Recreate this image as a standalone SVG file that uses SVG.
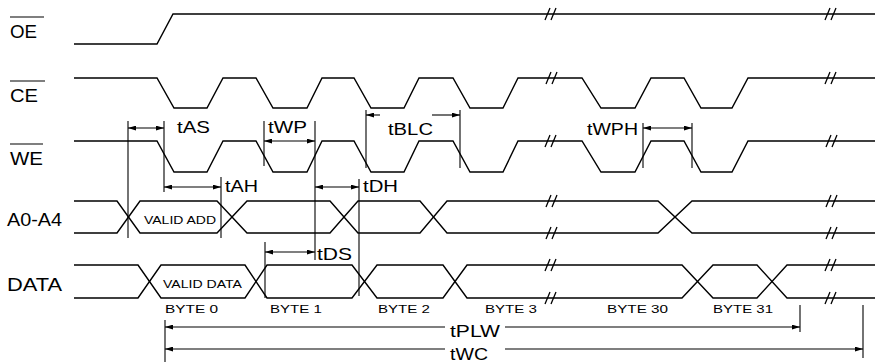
<svg xmlns="http://www.w3.org/2000/svg" xmlns:xlink="http://www.w3.org/1999/xlink" width="875" height="364" viewBox="0 0 875 364">
<style>
.sig{fill:none;stroke:#000;stroke-width:1.4;stroke-linejoin:miter}
.brk{fill:none;stroke:#000;stroke-width:1.3}
.tk{stroke:#000;stroke-width:1.1}
.ar{stroke:#000;stroke-width:1.1;fill:none}
.lbl{font-family:"Liberation Sans",Arial,Helvetica,sans-serif;font-size:18px;fill:#000}
.tl{font-family:"Liberation Sans",Arial,Helvetica,sans-serif;font-size:17px;fill:#000}
.sm{font-family:"Liberation Sans",Arial,Helvetica,sans-serif;font-size:11.5px;fill:#000}
.ob{stroke:#000;stroke-width:1.2}
</style>
<defs>
<path id="brk" d="M-7,6 L-2,-6 M-1,6 L4,-6"/>
<marker id="ah" viewBox="0 0 10 6" refX="10" refY="3" markerWidth="8" markerHeight="5" markerUnits="userSpaceOnUse" orient="auto-start-reverse">
<path d="M0,0 L10,3 L0,6 Z" fill="#000"/>
</marker>
</defs>
<rect width="875" height="364" fill="#fff"/>

<g id="OE">
<text class="lbl" x="10" y="38" textLength="27" lengthAdjust="spacingAndGlyphs">OE</text>
<line class="ob" x1="10" y1="17" x2="44" y2="17"/>
<path class="sig" d="M74,44 H157 L173,14 H875"/>
<use href="#brk" class="brk" x="552" y="14"/>
<use href="#brk" class="brk" x="832" y="14"/>
</g>

<g id="CE">
<text class="lbl" x="10" y="102" textLength="28" lengthAdjust="spacingAndGlyphs">CE</text>
<line class="ob" x1="10" y1="81" x2="45" y2="81"/>
<path class="sig" d="M74,78 H157 L174,108 H207 L223,78 H256 L273,108 H307 L322,78 H354 L371,108 H404 L419,78 H453 L470,108 H503 L518,78 H582 L601,108 H635 L651,78 H684 L701,108 H732 L748,78 H875"/>
<use href="#brk" class="brk" x="553" y="78"/>
<use href="#brk" class="brk" x="832" y="78"/>
</g>

<g id="WE">
<text class="lbl" x="10" y="165" textLength="33" lengthAdjust="spacingAndGlyphs">WE</text>
<line class="ob" x1="10" y1="144" x2="43" y2="144"/>
<path class="sig" d="M74,141 H157 L174,172 H207 L223,141 H256 L273,172 H307 L322,141 H354 L371,172 H404 L419,141 H453 L470,172 H503 L518,141 H582 L601,172 H635 L651,141 H684 L701,172 H732 L748,141 H875"/>
<use href="#brk" class="brk" x="552" y="141"/>
<use href="#brk" class="brk" x="833" y="141"/>
</g>

<g id="A0-A4">
<text class="lbl" x="7" y="226" textLength="55" lengthAdjust="spacingAndGlyphs">A0-A4</text>
<path class="sig" d="M74,201 H117 L140,233 H217 L247,201 H330 L358,233 H420 L447,201 H658 L692,233 H875"/>
<path class="sig" d="M74,233 H117 L140,201 H217 L247,233 H330 L358,201 H420 L447,233 H658 L692,201 H875"/>
<text class="sm" x="144" y="224" textLength="72" lengthAdjust="spacingAndGlyphs">VALID ADD</text>
<use href="#brk" class="brk" x="553" y="201"/>
<use href="#brk" class="brk" x="553" y="233"/>
<use href="#brk" class="brk" x="833" y="201"/>
<use href="#brk" class="brk" x="833" y="233"/>
</g>

<g id="DATA">
<text class="lbl" x="7" y="291" textLength="55" lengthAdjust="spacingAndGlyphs">DATA</text>
<path class="sig" d="M74,265 H138 L161,298 H245 L267,265 H352 L377,298 H443 L467,265 H682 L713,298 H757 L787,265 H875"/>
<path class="sig" d="M74,298 H138 L161,265 H245 L267,298 H352 L377,265 H443 L467,298 H682 L713,265 H757 L787,298 H875"/>
<text class="sm" x="163" y="288" textLength="79" lengthAdjust="spacingAndGlyphs">VALID DATA</text>
<use href="#brk" class="brk" x="552" y="265"/>
<use href="#brk" class="brk" x="552" y="298"/>
<use href="#brk" class="brk" x="832" y="265"/>
<use href="#brk" class="brk" x="832" y="298"/>
<text class="sm" x="165" y="313" textLength="53" lengthAdjust="spacingAndGlyphs">BYTE 0</text>
<text class="sm" x="270" y="313" textLength="52" lengthAdjust="spacingAndGlyphs">BYTE 1</text>
<text class="sm" x="378" y="313" textLength="52" lengthAdjust="spacingAndGlyphs">BYTE 2</text>
<text class="sm" x="485" y="313" textLength="52" lengthAdjust="spacingAndGlyphs">BYTE 3</text>
<text class="sm" x="607" y="313" textLength="61" lengthAdjust="spacingAndGlyphs">BYTE 30</text>
<text class="sm" x="713" y="313" textLength="60" lengthAdjust="spacingAndGlyphs">BYTE 31</text>
</g>

<g id="connectors">
<!-- ticks -->
<line class="tk" x1="128" y1="121" x2="128" y2="238"/>
<line class="tk" x1="164" y1="121" x2="164" y2="192"/>
<line class="tk" x1="221" y1="177" x2="221" y2="238"/>
<line class="tk" x1="264" y1="121" x2="264" y2="166"/>
<line class="tk" x1="265" y1="242" x2="265" y2="298"/>
<line class="tk" x1="315" y1="121" x2="315" y2="260"/>
<line class="tk" x1="359" y1="179" x2="359" y2="296"/>
<line class="tk" x1="366" y1="110" x2="366" y2="168"/>
<line class="tk" x1="460" y1="110" x2="460" y2="168"/>
<line class="tk" x1="643" y1="123" x2="643" y2="168"/>
<line class="tk" x1="692" y1="123" x2="692" y2="168"/>
<line class="tk" x1="165" y1="320" x2="165" y2="362"/>
<line class="tk" x1="800" y1="305" x2="800" y2="332"/>
<line class="tk" x1="863" y1="305" x2="863" y2="358"/>
<!-- arrows -->
<line class="ar" x1="128" y1="128" x2="164" y2="128" marker-start="url(#ah)" marker-end="url(#ah)"/>
<line class="ar" x1="164" y1="187" x2="221" y2="187" marker-start="url(#ah)" marker-end="url(#ah)"/>
<line class="ar" x1="264" y1="141" x2="315" y2="141" marker-start="url(#ah)" marker-end="url(#ah)"/>
<line class="ar" x1="315" y1="187" x2="359" y2="187" marker-start="url(#ah)" marker-end="url(#ah)"/>
<line class="ar" x1="265" y1="252" x2="315" y2="252" marker-start="url(#ah)" marker-end="url(#ah)"/>
<line class="ar" x1="380" y1="115" x2="366" y2="115" marker-end="url(#ah)"/>
<line class="ar" x1="432" y1="115" x2="460" y2="115" marker-end="url(#ah)"/>
<line class="ar" x1="643" y1="128" x2="692" y2="128" marker-start="url(#ah)" marker-end="url(#ah)"/>
<line class="ar" x1="445" y1="327" x2="165" y2="327" marker-end="url(#ah)"/>
<line class="ar" x1="505" y1="327" x2="800" y2="327" marker-end="url(#ah)"/>
<line class="ar" x1="445" y1="349" x2="165" y2="349" marker-end="url(#ah)"/>
<line class="ar" x1="505" y1="349" x2="863" y2="349" marker-end="url(#ah)"/>
<!-- labels -->
<text class="tl" x="177" y="133" textLength="33" lengthAdjust="spacingAndGlyphs">tAS</text>
<text class="tl" x="225" y="192" textLength="33" lengthAdjust="spacingAndGlyphs">tAH</text>
<text class="tl" x="268" y="133" textLength="39" lengthAdjust="spacingAndGlyphs">tWP</text>
<text class="tl" x="363" y="192" textLength="35" lengthAdjust="spacingAndGlyphs">tDH</text>
<text class="tl" x="388" y="135" textLength="45" lengthAdjust="spacingAndGlyphs">tBLC</text>
<text class="tl" x="587" y="135" textLength="51" lengthAdjust="spacingAndGlyphs">tWPH</text>
<text class="tl" x="317" y="260" textLength="35" lengthAdjust="spacingAndGlyphs">tDS</text>
<text class="tl" x="450" y="337" textLength="50" lengthAdjust="spacingAndGlyphs">tPLW</text>
<text class="tl" x="450" y="360" textLength="38" lengthAdjust="spacingAndGlyphs">tWC</text>
</g>
</svg>
